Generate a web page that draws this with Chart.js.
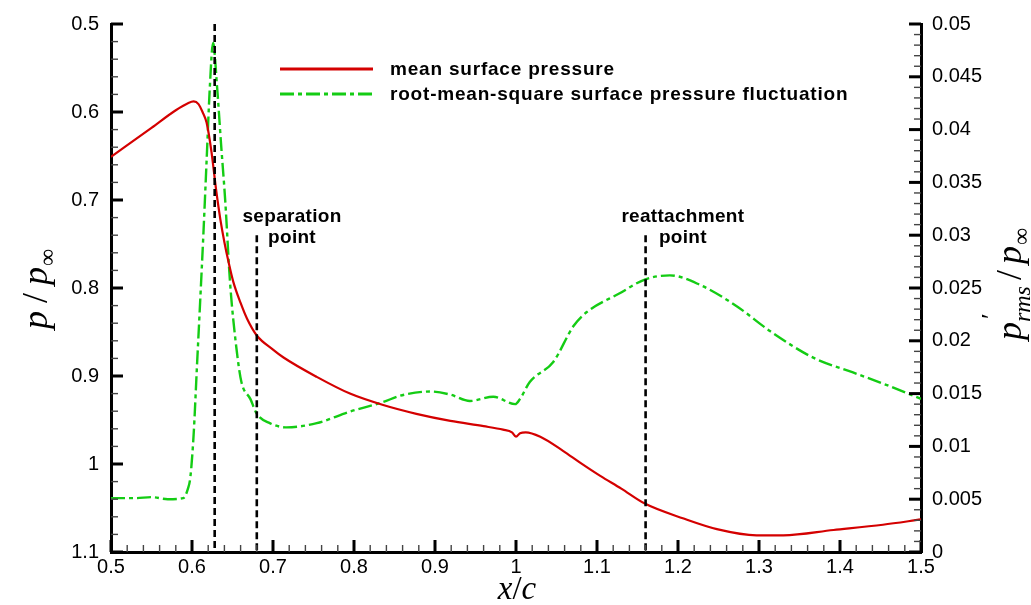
<!DOCTYPE html>
<html>
<head>
<meta charset="utf-8">
<script src="https://cdn.jsdelivr.net/npm/chart.js@4.4.0/dist/chart.umd.min.js"></script>
<style>
  html, body { margin: 0; padding: 0; background: #fff; }
</style>
</head>
<body>
<canvas id="chart" width="1031" height="605"></canvas>
<script>
// mean surface pressure p/p_inf (left axis, reversed)
const presX = [0.5, 0.55, 0.58, 0.595, 0.602, 0.608, 0.613, 0.618, 0.624, 0.63, 0.635, 0.64, 0.645, 0.651,
  0.66, 0.668, 0.68, 0.7, 0.713, 0.754, 0.795, 0.836, 0.877, 0.919, 0.96, 0.984, 0.995, 1.0, 1.005,
  1.012, 1.03, 1.058, 1.08, 1.104, 1.13, 1.159, 1.207, 1.248, 1.297, 1.33, 1.392, 1.453, 1.5];
const presY = [0.651, 0.618, 0.598, 0.590, 0.588, 0.591, 0.600, 0.612, 0.645, 0.690, 0.722, 0.748, 0.770, 0.793,
  0.817, 0.835, 0.854, 0.870, 0.879, 0.901, 0.920, 0.933, 0.943, 0.951, 0.957, 0.961, 0.964, 0.969, 0.965,
  0.964, 0.969, 0.985, 0.999, 1.0135, 1.028, 1.045, 1.062, 1.074, 1.081, 1.081, 1.075, 1.069, 1.063];

// rms surface pressure fluctuation (right axis)
const rmsX = [0.5, 0.53, 0.55, 0.57, 0.589, 0.595, 0.598, 0.602, 0.606, 0.61, 0.614, 0.618, 0.622, 0.626,
  0.631, 0.636, 0.641, 0.647, 0.655, 0.661, 0.672, 0.68, 0.696, 0.717, 0.754, 0.795, 0.836, 0.857, 0.894,
  0.919, 0.943, 0.972, 0.999, 1.005, 1.017, 1.046, 1.071, 1.087, 1.128, 1.159, 1.19, 1.227, 1.272, 1.314,
  1.367, 1.416, 1.458, 1.5];
const rmsY = [0.0051, 0.0051, 0.0052, 0.0050, 0.0051, 0.0060, 0.0071, 0.0111, 0.0174, 0.0236, 0.0300, 0.0370, 0.0440, 0.0482,
  0.0440, 0.0385, 0.0333, 0.0255, 0.0192, 0.0161, 0.0145, 0.0131, 0.0122, 0.0118, 0.0122, 0.0133, 0.0142, 0.0148, 0.0152,
  0.0149, 0.0143, 0.0147, 0.0140, 0.0145, 0.0161, 0.0180, 0.0214, 0.0227, 0.0245, 0.0258, 0.0262, 0.0253, 0.0233, 0.0209,
  0.0184, 0.0170, 0.0158, 0.0145];

// vertical dashed marker lines
const markerX = [0.628, 0.68, 1.16];
const markerTop = [0.5, 0.74, 0.74];
const markerText = [null, ['separation', 'point'], ['reattachment', 'point']];
const markerTextX = [null, 0.7235, 1.206];
const markerTextY = 0.7247;

const seriesLabels = ['mean surface pressure', 'root-mean-square surface pressure fluctuation'];

function fmt(v) { return String(Number(v.toFixed(4))); }

const markerSets = markerX.map((mx, i) => ({
  label: 'marker' + i,
  data: [{x: mx, y: markerTop[i]}, {x: mx, y: 1.1}],
  yAxisID: 'y',
  borderColor: '#000',
  borderWidth: 2.6,
  borderDash: [7, 4],
  pointRadius: 0,
  order: 0
}));

// ticks drawn inward, with minor ticks, through the scales
const inwardTicks = {
  id: 'inwardTicks',
  afterDatasetsDraw(chart) {
    const ctx = chart.ctx, a = chart.chartArea;
    const sx = chart.scales.x, sy = chart.scales.y, sr = chart.scales.y1;
    ctx.save();
    function seg(x1, y1, x2, y2, major) {
      ctx.beginPath();
      ctx.lineWidth = major ? 3 : 1.4;
      ctx.strokeStyle = major ? '#000' : '#444';
      ctx.moveTo(x1, y1); ctx.lineTo(x2, y2); ctx.stroke();
    }
    for (let i = 0; i <= 50; i++) {
      const p = sx.getPixelForValue(0.5 + i * 0.02), m = i % 5 === 0;
      seg(p, a.bottom, p, a.bottom - (m ? 12 : 7), m);
    }
    for (let i = 0; i <= 30; i++) {
      const p = sy.getPixelForValue(0.5 + i * 0.02), m = i % 5 === 0;
      seg(a.left, p, a.left + (m ? 12 : 7), p, m);
    }
    for (let i = 0; i <= 50; i++) {
      const p = sr.getPixelForValue(i * 0.001), m = i % 5 === 0;
      seg(a.right, p, a.right - (m ? 12 : 7), p, m);
    }
    ctx.restore();
  }
};

// draws a row of text pieces centred on (cx, cy), optionally rotated
function drawRich(ctx, parts, cx, cy, angle) {
  let total = 0;
  parts.forEach(p => {
    ctx.font = p.font;
    p.w = ctx.measureText(p.t).width + (p.gap || 0);
    if (!p.noAdvance) total += p.w;
  });
  ctx.save();
  ctx.translate(cx, cy);
  ctx.rotate(angle);
  ctx.fillStyle = '#000';
  ctx.textBaseline = 'alphabetic';
  let x = -total / 2;
  parts.forEach(p => {
    ctx.font = p.font;
    ctx.fillText(p.t, x + (p.dx || 0), p.dy || 0);
    if (!p.noAdvance) x += p.w;
  });
  ctx.restore();
}

const titlesAndNotes = {
  id: 'titlesAndNotes',
  afterDraw(chart) {
    const ctx = chart.ctx, a = chart.chartArea;
    const sx = chart.scales.x, sy = chart.scales.y;
    const it = 'italic 36px "Liberation Serif"', rg = '36px "Liberation Serif"';
    const inf = '24px "Liberation Serif"';
    // left title
    drawRich(ctx, [
      {t: 'p', font: it, gap: 8}, {t: '/', font: rg, gap: 8}, {t: 'p', font: it, gap: 1},
      {t: '\u221E', font: inf, dy: 8}
    ], 47, 289, -Math.PI / 2);
    // bottom title
    drawRich(ctx, [{t: 'x', font: 'italic 33px "Liberation Serif"'}, {t: '/', font: '33px "Liberation Serif"'},
      {t: 'c', font: 'italic 33px "Liberation Serif"'}], 517, 599, 0);
    // right title
    drawRich(ctx, [
      {t: 'p', font: it}, {t: '\u2032', font: '26px "Liberation Serif"', dy: -22, dx: 3, noAdvance: true},
      {t: 'rms', font: 'italic 24px "Liberation Serif"', dy: 9, gap: 6}, {t: '/', font: rg, gap: 6},
      {t: 'p', font: it, gap: 1}, {t: '\u221E', font: inf, dy: 8}
    ], 1021, 284, -Math.PI / 2);

    // marker annotations
    ctx.save();
    ctx.fillStyle = '#000';
    ctx.font = 'bold 19px "Liberation Sans"';
    ctx.letterSpacing = '0.3px';
    ctx.textAlign = 'center';
    ctx.textBaseline = 'alphabetic';
    markerText.forEach((lines, i) => {
      if (!lines) return;
      const px = sx.getPixelForValue(markerTextX[i]);
      const py = sy.getPixelForValue(markerTextY);
      lines.forEach((s, k) => ctx.fillText(s, px, py + k * 21));
    });
    ctx.restore();

    // legend
    [0, 1].forEach(i => {
      const ds = chart.data.datasets[i];
      const y = a.top + 45 + i * 25;
      ctx.save();
      ctx.strokeStyle = ds.borderColor;
      ctx.lineWidth = 3;
      ctx.setLineDash(ds.borderDash || []);
      ctx.beginPath(); ctx.moveTo(a.left + 169, y); ctx.lineTo(a.left + 262, y); ctx.stroke();
      ctx.setLineDash([]);
      ctx.fillStyle = '#000';
      ctx.font = 'bold 19px "Liberation Sans"';
      ctx.letterSpacing = '0.8px';
      ctx.textBaseline = 'middle';
      ctx.fillText(ds.label, a.left + 279, y + 1);
      ctx.restore();
    });
  }
};

const tickFont = {family: '"Liberation Sans", Arial, sans-serif', size: 20};

new Chart(document.getElementById('chart'), {
  type: 'line',
  data: {
    datasets: [
      {
        label: seriesLabels[0],
        data: presX.map((x, i) => ({x: x, y: presY[i]})),
        yAxisID: 'y',
        borderColor: '#d40000',
        borderWidth: 2.2,
        pointRadius: 0,
        cubicInterpolationMode: 'monotone',
        order: 1
      },
      {
        label: seriesLabels[1],
        data: rmsX.map((x, i) => ({x: x, y: rmsY[i]})),
        yAxisID: 'y1',
        borderColor: '#14cc14',
        borderWidth: 2.4,
        borderDash: [14, 4, 4, 4],
        pointRadius: 0,
        cubicInterpolationMode: 'monotone',
        order: 2
      },
      ...markerSets
    ]
  },
  options: {
    responsive: false,
    devicePixelRatio: 1,
    animation: false,
    layout: {padding: {top: 18, left: 0, right: 0, bottom: 0}},
    plugins: {legend: {display: false}, tooltip: {enabled: false}},
    scales: {
      x: {
        type: 'linear', min: 0.5, max: 1.5,
        ticks: {stepSize: 0.1, color: '#000', font: tickFont, padding: 3, maxRotation: 0, callback: v => fmt(v)},
        grid: {drawOnChartArea: false, drawTicks: false},
        border: {display: true, color: '#000', width: 3},
        afterFit: s => { s.height = 53; }
      },
      y: {
        type: 'linear', position: 'left', min: 0.5, max: 1.1, reverse: true,
        ticks: {stepSize: 0.1, color: '#000', font: tickFont, padding: 12, callback: v => fmt(v)},
        grid: {drawOnChartArea: false, drawTicks: false},
        border: {display: true, color: '#000', width: 3},
        afterFit: s => { s.width = 111; }
      },
      y1: {
        type: 'linear', position: 'right', min: 0, max: 0.05,
        ticks: {stepSize: 0.005, color: '#000', font: tickFont, padding: 11, callback: v => fmt(v)},
        grid: {drawOnChartArea: false, drawTicks: false},
        border: {display: true, color: '#000', width: 3},
        afterFit: s => { s.width = 110; }
      }
    }
  },
  plugins: [inwardTicks, titlesAndNotes]
});
</script>
</body>
</html>
